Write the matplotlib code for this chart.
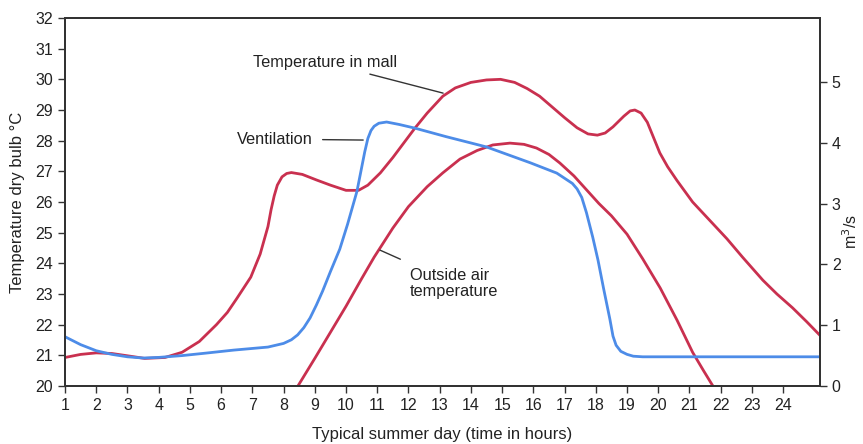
import matplotlib
matplotlib.use("Agg")
import matplotlib.pyplot as plt

plt.rcParams["font.family"] = ["Liberation Sans", "DejaVu Sans"]

# hours (1..24) and readings taken off the chart
hour_ticks = list(range(1, 25))

mall_hours = [1.0, 1.5, 2.0, 2.5, 3.1, 3.55, 4.2, 4.75, 5.3, 5.85, 6.2, 6.5, 6.95, 7.25, 7.5,
              7.6, 7.7, 7.8, 7.95, 8.1, 8.25, 8.6, 9.05, 9.5, 10.0, 10.4, 10.7, 11.1, 11.5,
              12.2, 12.6, 13.1, 13.5, 14.0, 14.5, 14.95, 15.4, 15.8, 16.2, 16.6, 17.0, 17.4,
              17.75, 18.05, 18.3, 18.55, 18.9, 19.1, 19.25, 19.45, 19.65, 19.85, 20.05, 20.3,
              20.6, 21.1, 21.65, 22.2, 22.7, 23.35, 23.8, 24.3, 24.75, 25.18]
mall_temp = [20.93, 21.03, 21.08, 21.06, 20.97, 20.9, 20.93, 21.1, 21.45, 22.0, 22.4, 22.85,
             23.55, 24.3, 25.2, 25.75, 26.2, 26.55, 26.82, 26.93, 26.96, 26.9, 26.72, 26.55,
             26.38, 26.38, 26.55, 26.95, 27.45, 28.4, 28.9, 29.45, 29.72, 29.9, 29.98, 30.0,
             29.9, 29.7, 29.45, 29.1, 28.75, 28.42, 28.22, 28.18, 28.25, 28.45, 28.8, 28.97,
             29.0, 28.9, 28.6, 28.1, 27.6, 27.15, 26.7, 26.0, 25.4, 24.8, 24.2, 23.45, 23.0,
             22.55, 22.1, 21.65]

outside_hours = [8.46, 9.0, 9.5, 10.0, 10.5, 10.9, 11.5, 12.0, 12.6, 13.1, 13.65, 14.2, 14.7,
                 15.25, 15.7, 16.1, 16.5, 16.85, 17.3, 17.7, 18.1, 18.5, 19.0, 19.5, 20.06,
                 20.6, 21.1, 21.45, 21.75]
outside_temp = [20.0, 20.9, 21.75, 22.6, 23.5, 24.2, 25.15, 25.85, 26.5, 26.95, 27.4, 27.68,
                27.86, 27.92, 27.88, 27.76, 27.55, 27.27, 26.85, 26.4, 25.95, 25.55, 24.95,
                24.15, 23.2, 22.15, 21.1, 20.5, 20.0]

vent_hours = [1.0, 1.5, 2.0, 2.5, 3.0, 3.5, 4.0, 4.75, 5.5, 6.4, 7.5, 8.0, 8.25, 8.45, 8.65,
              8.85, 9.05, 9.25, 9.5, 9.8, 10.05, 10.35, 10.6, 10.7, 10.8, 10.9, 11.05, 11.3,
              11.7, 12.2, 13.2, 14.5, 15.9, 16.75, 17.25, 17.4, 17.55, 17.7, 17.9, 18.07,
              18.25, 18.45, 18.55, 18.65, 18.8, 19.0, 19.2, 19.5, 25.18]
vent_flow = [0.81, 0.68, 0.58, 0.52, 0.48, 0.46, 0.47, 0.5, 0.54, 0.59, 0.64, 0.7, 0.76, 0.84,
             0.96, 1.12, 1.33, 1.56, 1.88, 2.25, 2.66, 3.2, 3.85, 4.07, 4.2, 4.27, 4.32, 4.34,
             4.3, 4.24, 4.1, 3.93, 3.67, 3.5, 3.33, 3.24, 3.1, 2.85, 2.45, 2.07, 1.6, 1.1,
             0.82, 0.67, 0.57, 0.52, 0.49, 0.48, 0.48]

RED = "#c9304f"
BLUE = "#4d8ce8"
FRAME = "#333333"

fig = plt.figure(figsize=(8.63, 4.44), dpi=100)
ax = fig.add_axes([65 / 863, 58 / 444, 755 / 863, 368 / 444])
ax2 = ax.twinx()

line_kw = dict(lw=2.0, solid_capstyle="round", solid_joinstyle="round")
ax.plot(mall_hours, mall_temp, color=RED, **line_kw)
ax.plot(outside_hours, outside_temp, color=RED, **line_kw)
ax2.plot(vent_hours, vent_flow, color=BLUE, **line_kw)

ax.set_xlim(1, 25.18)
ax.set_ylim(20, 32)
ax2.set_ylim(0, 6.05)

ax.set_xticks(hour_ticks)
ax.set_yticks(range(20, 33))
ax2.set_yticks(range(0, 6))

for a in (ax, ax2):
    for s in a.spines.values():
        s.set_color(FRAME)
        s.set_linewidth(1.4)
    a.tick_params(colors=FRAME, labelcolor="#222222", labelsize=11.5, length=5, width=1)

ax.set_ylabel("Temperature dry bulb °C", fontsize=12, color="#222222")
ax.yaxis.set_label_coords(-0.053, 0.5)
ax.set_xlabel("Typical summer day (time in hours)", fontsize=12, color="#222222", labelpad=10)
fig.text(851 / 863, 1 - 232 / 444, "m$^3$/s", rotation=90, ha="center", va="center",
         fontsize=11.5, color="#222222")

ann = dict(fontsize=11.8, color="#222222")
ax.annotate("Temperature in mall", xy=(13.11, 29.55), xytext=(11.63, 30.55),
            ha="right", va="center",
            arrowprops=dict(arrowstyle="-", color=FRAME, lw=1.0, shrinkA=4, shrinkB=0), **ann)
ax.annotate("Ventilation", xy=(10.55, 28.02), xytext=(8.94, 28.05),
            ha="right", va="center",
            arrowprops=dict(arrowstyle="-", color=FRAME, lw=1.0, shrinkA=5, shrinkB=0), **ann)
ax.annotate("Outside air\ntemperature", xy=(11.09, 24.43), xytext=(12.05, 23.35),
            ha="left", va="center", linespacing=1.1,
            arrowprops=dict(arrowstyle="-", color=FRAME, lw=1.0, shrinkA=10, shrinkB=0), **ann)

fig.savefig("out.png", dpi=100)
